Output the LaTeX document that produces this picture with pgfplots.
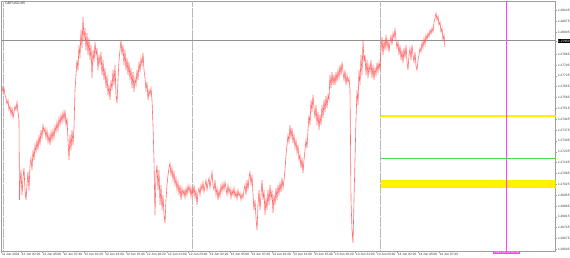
\documentclass[border=0pt]{standalone}
\usepackage{fontspec}
\setmainfont{Liberation Sans}
\usepackage{pgfplots}
\pgfplotsset{compat=1.18}
\definecolor{pricered}{RGB}{255,85,85}
\definecolor{mtmagenta}{RGB}{255,64,255}
\definecolor{mtgreen}{RGB}{70,225,70}
\definecolor{frame}{RGB}{160,160,160}
\definecolor{sep}{RGB}{185,185,185}
\definecolor{bid}{RGB}{145,145,145}
\begin{document}
\begin{tikzpicture}
\path[use as bounding box] (0,0) rectangle (570bp,258bp);
\begin{axis}[
 at={(1bp,7bp)}, anchor=south west, scale only axis, width=554.5bp, height=250bp,
 xmin=1, xmax=555.5, ymin=7, ymax=257,
 y filter/.expression={258-y},
 axis line style={frame, line width=0.5bp},
 xtick pos=left, ytick pos=right, yticklabel pos=right,
 tick align=outside, major tick length=1.5bp, tick style={frame, line width=0.4bp},
 xtick={1.5,21.3,42.2,63.1,83.9,104.8,125.7,146.6,167.5,188.4,209.3,230.2,251.0,271.9,292.8,313.7,334.6,355.5,376.4,397.3,418.2,439.0},
 xticklabels={11 Jun 2024,12 Jun 02:20,12 Jun 05:00,12 Jun 07:40,12 Jun 10:20,12 Jun 13:00,12 Jun 15:40,12 Jun 18:20,12 Jun 21:00,12 Jun 23:40,13 Jun 02:20,13 Jun 05:00,13 Jun 07:40,13 Jun 10:20,13 Jun 13:00,13 Jun 15:40,13 Jun 18:20,13 Jun 21:00,13 Jun 23:40,14 Jun 02:20,14 Jun 05:00,14 Jun 07:40},
 ytick={8.6,19.45,30.3,41.15,52,62.85,73.7,84.55,95.4,106.25,117.1,127.95,138.8,149.65,160.5,171.35,182.2,193.05,203.9,225.6,236.45,247.3},
 yticklabels={1.26605,1.26675,1.26745,1.26815,1.26885,1.26955,1.27025,1.27095,1.27165,1.27235,1.27305,1.27375,1.27445,1.27515,1.27585,1.27655,1.27725,1.27795,1.27865,1.28005,1.28075,1.28145},
 x tick label style={anchor=north west, inner sep=0.4bp, yshift=0.2bp, text=black!80, font=\fontsize{3.2}{3.8}\selectfont},
 y tick label style={anchor=west, inner sep=0.5bp, xshift=0.3bp, text=black!80, font=\fontsize{3.2}{3.8}\selectfont},
 extra x ticks={506.5}, extra x tick labels={2024.06.14 16:20},
 extra x tick style={major tick length=0pt, xticklabel style={anchor=north, fill=mtmagenta, text=white!85!mtmagenta, inner sep=0.7bp, yshift=0.3bp}},
 extra y ticks={217}, extra y tick labels={1.27950},
 extra y tick style={yticklabel style={fill=black, text=white, inner sep=0.7bp}},
 clip=true,
]
% levels
\addplot[fill=yellow, draw=none] coordinates {(381,114.7) (555.5,114.7) (555.5,117.3) (381,117.3)};
\addplot[fill=yellow, draw=none] coordinates {(381,180) (555.5,180) (555.5,188) (381,188)};
\addplot[mtgreen, line width=0.7bp] coordinates {(381,158.3) (555.5,158.3)};
% day separators
\addplot[sep, line width=0.5bp, dash pattern=on 0.4bp off 0.7bp] coordinates {(3.2,1) (3.2,251)};
\addplot[sep, line width=0.5bp, dash pattern=on 0.4bp off 0.7bp] coordinates {(192.7,1) (192.7,251)};
\addplot[sep, line width=0.5bp, dash pattern=on 0.4bp off 0.7bp] coordinates {(380.7,1) (380.7,251)};
% bid line
\addplot[bid, line width=0.5bp] coordinates {(1,40) (555.5,40)};
% vertical line
\addplot[mtmagenta, line width=0.8bp] coordinates {(506.5,1) (506.5,251)};
% price
\addplot[pricered, line width=0.6bp, opacity=0.85] coordinates {
(2,86)(3,92)(4,88)(5,95)(6,98)(7,104)(8,100)(9,110)(10,106)(11,115)(12,108)(13,118)(14,112)(15,106)(16,110)(17,102)(18,112)(19,120)
(19.5,200)(20,185)(21,170)(22,195)(23,178)(24,168)(25,190)(26,200)(27,185)(28,172)(29,190)(30,165)(31,158)(32,170)(33,150)(34,160)(35,145)(36,152)(37,140)(38,150)(39,135)(40,145)(41,130)(42,138)(43,125)(44,132)(45,128)(46,138)(47,130)(48,142)(49,135)(50,145)(51,132)(52,140)(53,130)(54,138)(55,126)(56,132)(57,122)(58,130)(59,118)(60,125)(61,115)(62,122)(63,112)(64,120)(65,110)(66,125)(67,118)(68,140)(69,160)(70,135)(71,150)(72,130)(73,145)(74,128)
(75,90)(76,75)(77,60)(78,70)(79,45)(80,58)(81,30)(82,48)(83,17)(84,40)(85,28)(86,50)(87,33)(88,55)(89,38)(90,60)(91,45)(92,78)(93,50)(94,62)(95,42)(96,55)(97,48)(98,70)(99,55)(100,65)(101,52)(102,75)(103,60)(104,80)(105,68)(106,88)(107,75)(108,95)(109,85)(110,100)(111,80)(112,90)(113,70)(114,85)(115,65)(116,95)(117,103)(118,80)(119,60)(120,50)(121,40)(122,55)(123,45)(124,65)(125,50)(126,70)(127,58)(128,75)(129,62)(130,80)(131,68)(132,88)(133,72)(134,92)(135,78)(136,85)(137,70)(138,80)(139,62)(140,72)(141,58)(142,65)(143,53)(144,70)(145,78)(146,90)(147,82)(148,100)(149,90)(150,95)(151,88)(152,100)
(153,125)(154,160)(155,215)(156,175)(157,165)(158,190)(159,170)(160,205)(161,185)(162,210)(163,195)(164,215)(165,223)(166,200)(167,185)(168,175)(169,168)(170,163)(171,175)(172,168)(173,180)(174,172)(175,185)(176,178)(177,190)(178,182)(179,195)(180,185)(181,200)(182,188)(183,195)(184,190)(185,198)(186,188)(187,195)(188,185)(189,192)(190,186)(191,197)(192,188)(193,195)(194,185)(195,198)(196,190)(197,205)(198,192)(199,188)(200,195)(201,185)(202,190)(203,182)(204,192)(205,186)(206,180)(207,190)(208,183)(209,178)(210,188)(211,180)(212,172)(213,185)(214,190)(215,180)(216,195)(217,188)(218,200)(219,190)(220,197)(221,185)(222,192)(223,183)(224,190)(225,182)(226,188)(227,195)(228,185)(229,193)(230,188)(231,198)(232,190)(233,195)(234,188)(235,197)(236,192)(237,199)(238,190)(239,196)(240,193)(241,200)(242,194)(243,198)(244,190)(245,185)(246,195)(247,180)(248,190)(249,178)(250,172)(251,185)(252,175)(253,195)(254,210)(255,200)(256,218)(257,230)(258,205)(259,190)(260,210)(261,195)(262,180)(263,200)(264,190)(265,215)(266,198)(267,210)(268,190)(269,205)(270,185)(271,200)(272,190)(273,213)(274,195)(275,205)(276,188)(277,200)(278,185)(279,195)(280,182)(281,192)(282,178)(283,188)(284,180)(285,170)
(286,155)(287,145)(288,135)(289,142)(290,125)(291,138)(292,128)(293,143)(294,135)(295,148)(296,140)(297,153)(298,145)(299,160)(300,155)(301,168)(302,158)(303,173)(304,160)(305,150)(306,140)(307,148)(308,130)(309,115)(310,125)(311,100)(312,112)(313,95)(314,108)(315,118)(316,105)(317,125)(318,112)(319,130)(320,115)(321,125)(322,105)(323,118)(324,100)(325,112)(326,96)(327,108)(328,95)(329,100)(330,75)(331,88)(332,72)(333,85)(334,75)(335,85)(336,72)(337,82)(338,70)(339,78)(340,65)(341,75)(342,62)(343,72)(344,80)(345,70)(346,85)(347,75)(348,82)(349,78)(350,90)
(350.5,140)(351,200)(352,230)(353,243)(354,200)(355,160)(356,120)(357,90)(358,105)(359,70)(360,85)(361,55)(362,75)(363,40)(364,62)(365,55)(366,75)(367,60)(368,78)(369,65)(370,72)(371,60)(372,78)(373,65)(374,80)(375,68)(376,75)(377,63)(378,72)(379,62)(380,70)
(381,50)(382,37)(383,55)(384,40)(385,50)(386,35)(387,48)(388,40)(389,52)(390,42)(391,36)(392,45)(393,33)(394,38)(395,29)(396,40)(397,48)(398,42)(399,55)(400,45)(401,60)(402,50)(403,63)(404,48)(405,58)(406,45)(407,62)(408,70)(409,55)(410,48)(411,60)(412,45)(413,55)(414,62)(415,52)(416,66)(417,70)(418,60)(419,55)(420,48)(421,52)(422,42)(423,48)(424,38)(425,45)(426,35)(427,40)(428,33)(429,37)(430,30)(431,34)(432,28)(433,32)(434,22)(435,18)(436,13)(437,20)(438,16)(439,25)(440,22)(441,32)(442,28)(443,40)(444,35)(445,47)
};
\node[anchor=west, inner sep=0, font=\fontsize{3.4}{4}\selectfont, text=black!80] at (rel axis cs:0.0075,0.99) {GBPUSD,M5};
\end{axis}
\end{tikzpicture}
\end{document}
